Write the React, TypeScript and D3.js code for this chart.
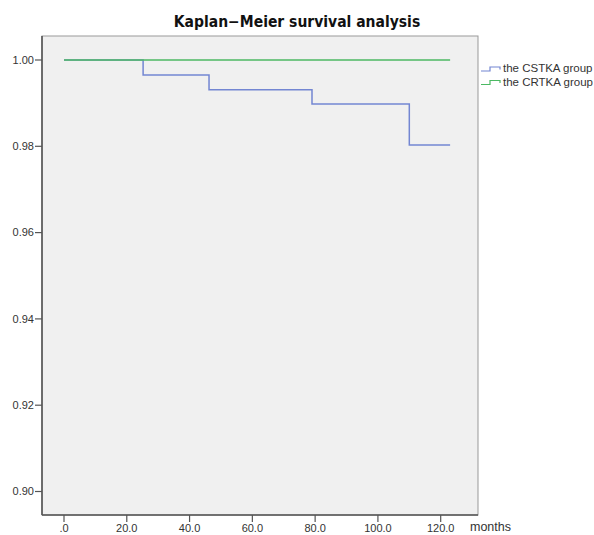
import React from 'react'
import * as d3 from 'd3'

const xTicks = [0, 20, 40, 60, 80, 100, 120]
const yTicks = [0.9, 0.92, 0.94, 0.96, 0.98, 1.0]
const cstkaTimes = [0, 25.2, 46.2, 79.0, 110.0, 123.0]
const cstkaSurv = [1.0, 0.9965, 0.9931, 0.9898, 0.9803, 0.9803]
const crtkaTimes = [0, 123.0]
const crtkaSurv = [1.0, 1.0]
const groups = ['the CSTKA group', 'the CRTKA group']
const colors = ['#7386d2', '#4cb963']

const App = () => {
    const frame = { left: 42, top: 36, right: 478, bottom: 515 }
    const x = d3.scaleLinear().domain([0, 120]).range([64, 440.7])
    const y = d3.scaleLinear().domain([0.9, 1.0]).range([491.5, 60])
    const line = d3.line<[number, number]>()
        .x(d => x(d[0]))
        .y(d => y(d[1]))
        .curve(d3.curveStepAfter)
    const series = [
        cstkaTimes.map((t, i) => [t, cstkaSurv[i]] as [number, number]),
        crtkaTimes.map((t, i) => [t, crtkaSurv[i]] as [number, number]),
    ]
    const xFmt = (v: number) => v === 0 ? '.0' : d3.format('.1f')(v)
    const font = 'Liberation Sans, Arial, sans-serif'

    return (
        <svg width='594' height='535' style={{ position: 'absolute', left: 0, top: 0 }} fontFamily={font}>
            <rect x={0} y={0} width={594} height={535} fill='#fff' />
            <text x={297} y={27} textAnchor='middle' fontSize='15.5' fontWeight='bold' fill='#111'
                fontFamily='DejaVu Sans Condensed, Liberation Sans, sans-serif'>
                Kaplan−Meier survival analysis
            </text>
            <rect x={frame.left} y={frame.top} width={frame.right - frame.left} height={frame.bottom - frame.top}
                fill='#f0f0f0' stroke='#999' strokeWidth='1' />
            <line x1={frame.left} x2={frame.left} y1={frame.top} y2={frame.bottom} stroke='#555' strokeWidth='1.6' />
            <line x1={frame.left} x2={frame.right} y1={frame.bottom} y2={frame.bottom} stroke='#555' strokeWidth='1.6' />
            {/* series, CRTKA on top */}
            {[0, 1].map(i => (
                <path key={i} d={line(series[i]) || ''} fill='none' stroke={colors[i]} strokeWidth='1.5' />
            ))}
            {/* y axis */}
            {yTicks.map(t => (
                <g key={t}>
                    <line x1={frame.left - 7} x2={frame.left} y1={y(t)} y2={y(t)} stroke='#555' strokeWidth='1.2' />
                    <text x={frame.left - 8} y={y(t)} dy='0.35em' textAnchor='end' fontSize='11' fill='#333'>
                        {d3.format('.2f')(t)}
                    </text>
                </g>
            ))}
            {/* x axis */}
            {xTicks.map(t => (
                <g key={t}>
                    <line x1={x(t)} x2={x(t)} y1={frame.bottom} y2={frame.bottom + 7} stroke='#555' strokeWidth='1.2' />
                    <text x={x(t)} y={532} textAnchor='middle' fontSize='11' fill='#333'>{xFmt(t)}</text>
                </g>
            ))}
            <text x={470} y={531} fontSize='12.5' fill='#333'>months</text>
            {/* legend */}
            {groups.map((g, i) => {
                const ly = 71 + i * 13.5
                return (
                    <g key={g}>
                        <path d={`M481,${ly} H490 V${ly - 4} H500 V${ly - 1.5}`} fill='none' stroke={colors[i]} strokeWidth='1.2' />
                        <text x={503} y={ly} dy='0.1em' fontSize='11.5' fill='#333'>{g}</text>
                    </g>
                )
            })}
        </svg>
    )
}

export default App
